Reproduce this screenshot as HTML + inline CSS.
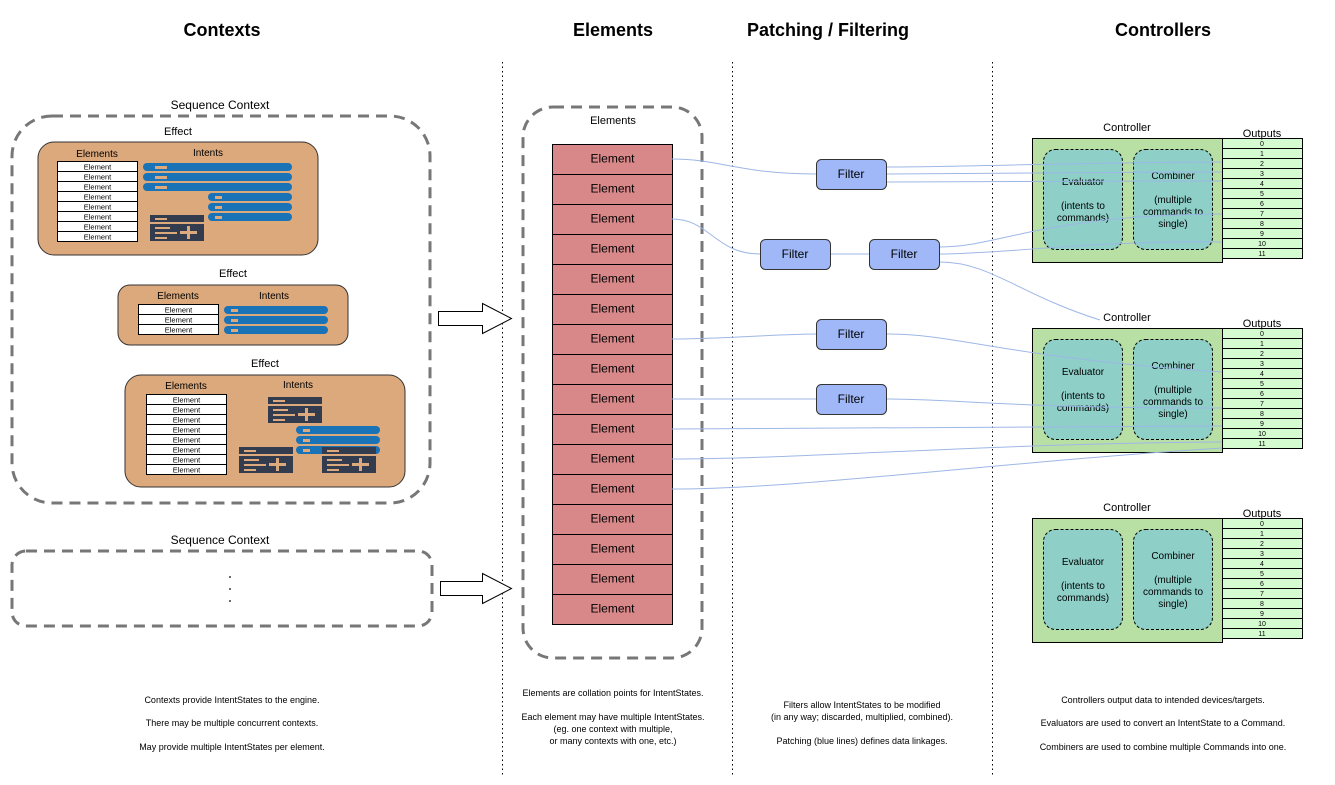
<!DOCTYPE html>
<html><head><meta charset="utf-8"><style>
body{margin:0;background:#fff}
svg{display:block}
text{font-family:"Liberation Sans",sans-serif;fill:#000}
</style></head><body>
<svg width="1335" height="785" viewBox="0 0 1335 785" xmlns="http://www.w3.org/2000/svg">
<defs>
<g id="row8"><rect width="80" height="10" fill="#fff" stroke="#000" stroke-width="1"/></g>
</defs>
<!-- titles -->
<g font-weight="bold" font-size="18" text-anchor="middle">
<text x="222" y="36">Contexts</text>
<text x="613" y="36">Elements</text>
<text x="828" y="36">Patching / Filtering</text>
<text x="1163" y="36">Controllers</text>
</g>
<!-- dotted separators -->
<g stroke="#000" stroke-width="1" stroke-dasharray="1.5,3">
<line x1="502.5" y1="62" x2="502.5" y2="775"/>
<line x1="732.5" y1="62" x2="732.5" y2="775"/>
<line x1="992.5" y1="62" x2="992.5" y2="775"/>
</g>
<!-- sequence context 1 -->
<text x="220" y="109" font-size="12" text-anchor="middle">Sequence Context</text>
<rect x="12" y="116" width="418" height="387" rx="40" fill="none" stroke="#777" stroke-width="3" stroke-dasharray="11,7"/>
<!-- Effect 1 -->
<text x="178" y="135" font-size="11" text-anchor="middle">Effect</text>
<rect x="38" y="142" width="280" height="113" rx="16" fill="#dca97c" stroke="#333"/>
<text x="97" y="157" font-size="10" text-anchor="middle">Elements</text>
<text x="208" y="156" font-size="10" text-anchor="middle">Intents</text>
<g font-size="7.5" text-anchor="middle">
<g transform="translate(57.5,161.5)">
<rect width="80" height="80" fill="#fff" stroke="#000"/>
<path d="M0 10H80M0 20H80M0 30H80M0 40H80M0 50H80M0 60H80M0 70H80" stroke="#000"/>
<text x="40" y="8">Element</text><text x="40" y="18">Element</text><text x="40" y="28">Element</text><text x="40" y="38">Element</text><text x="40" y="48">Element</text><text x="40" y="58">Element</text><text x="40" y="68">Element</text><text x="40" y="78">Element</text>
</g></g>
<g fill="#1a72b7">
<rect x="143" y="163" width="149" height="8" rx="4"/><rect x="143" y="173" width="149" height="8" rx="4"/><rect x="143" y="183" width="149" height="8" rx="4"/>
<rect x="208" y="193" width="84" height="8" rx="4"/><rect x="208" y="203" width="84" height="8" rx="4"/><rect x="208" y="213" width="84" height="8" rx="4"/>
</g>
<g fill="#dca97c"><rect x="155" y="166" width="12" height="3"/><rect x="155" y="176" width="12" height="3"/><rect x="155" y="186" width="12" height="3"/><rect x="215" y="196" width="7" height="3"/><rect x="215" y="206" width="7" height="3"/><rect x="215" y="216" width="7" height="3"/></g>
<g id="dark1"><rect x="150" y="215" width="54" height="7" fill="#333c4e"/><rect x="150" y="224" width="54" height="17" fill="#333c4e"/>
<g fill="#dca97c"><rect x="155" y="218" width="12" height="2"/><rect x="155" y="227" width="15" height="2"/><rect x="155" y="232" width="22" height="2"/><rect x="155" y="237" width="12" height="2"/><rect x="180" y="231" width="17" height="3"/><rect x="187" y="226" width="3" height="13"/></g></g>
<!-- Effect 2 -->
<text x="233" y="277" font-size="11" text-anchor="middle">Effect</text>
<rect x="118" y="285" width="230" height="60" rx="12" fill="#dca97c" stroke="#333"/>
<text x="178" y="299" font-size="10" text-anchor="middle">Elements</text>
<text x="274" y="299" font-size="10" text-anchor="middle">Intents</text>
<g font-size="7.5" text-anchor="middle" transform="translate(138.5,304.5)">
<rect width="80" height="30" fill="#fff" stroke="#000"/><path d="M0 10H80M0 20H80" stroke="#000"/>
<text x="40" y="8">Element</text><text x="40" y="18">Element</text><text x="40" y="28">Element</text></g>
<g fill="#1a72b7"><rect x="224" y="306" width="104" height="8" rx="4"/><rect x="224" y="316" width="104" height="8" rx="4"/><rect x="224" y="326" width="104" height="8" rx="4"/></g>
<g fill="#dca97c"><rect x="231" y="309" width="7" height="3"/><rect x="231" y="319" width="7" height="3"/><rect x="231" y="329" width="7" height="3"/></g>
<!-- Effect 3 -->
<text x="265" y="367" font-size="11" text-anchor="middle">Effect</text>
<rect x="125" y="375" width="280" height="112" rx="16" fill="#dca97c" stroke="#333"/>
<text x="186" y="389" font-size="10" text-anchor="middle">Elements</text>
<text x="298" y="388" font-size="10" text-anchor="middle">Intents</text>
<g font-size="7.5" text-anchor="middle" transform="translate(146.5,394.5)">
<rect width="80" height="80" fill="#fff" stroke="#000"/>
<path d="M0 10H80M0 20H80M0 30H80M0 40H80M0 50H80M0 60H80M0 70H80" stroke="#000"/>
<text x="40" y="8">Element</text><text x="40" y="18">Element</text><text x="40" y="28">Element</text><text x="40" y="38">Element</text><text x="40" y="48">Element</text><text x="40" y="58">Element</text><text x="40" y="68">Element</text><text x="40" y="78">Element</text></g>
<use href="#dark1" transform="translate(118,182)"/>
<g fill="#1a72b7"><rect x="296" y="426" width="84" height="8" rx="4"/><rect x="296" y="436" width="84" height="8" rx="4"/><rect x="296" y="446" width="84" height="8" rx="4"/></g>
<g fill="#dca97c"><rect x="303" y="429" width="7" height="3"/><rect x="303" y="439" width="7" height="3"/><rect x="303" y="449" width="7" height="3"/></g>
<use href="#dark1" transform="translate(89,232)"/>
<use href="#dark1" transform="translate(172,232)"/>
<!-- arrows -->
<g fill="#fff" stroke="#000" stroke-width="1">
<path d="M438.5 311.5H482.5V303.5L511.5 318.5L482.5 333.5V325.5H438.5Z"/>
<path d="M440.5 581.5H482.5V573.5L511.5 588.5L482.5 603.5V595.5H440.5Z"/>
</g>
<!-- sequence context 2 -->
<text x="220" y="544" font-size="12" text-anchor="middle">Sequence Context</text>
<rect x="12" y="551" width="420" height="75" rx="14" fill="none" stroke="#777" stroke-width="3" stroke-dasharray="11,7"/>
<g fill="#000"><circle cx="230" cy="577" r="0.9"/><circle cx="230" cy="589" r="0.9"/><circle cx="230" cy="601" r="0.9"/></g>
<!-- elements column -->
<rect x="523" y="107" width="179" height="551" rx="30" fill="none" stroke="#777" stroke-width="3" stroke-dasharray="11,7"/>
<text x="613" y="124" font-size="11" text-anchor="middle">Elements</text>
<g font-size="12" text-anchor="middle">
<g transform="translate(552.5,144.5)">
<rect width="120" height="480" fill="#d9888a" stroke="#000"/>
<path d="M0 30H120M0 60H120M0 90H120M0 120H120M0 150H120M0 180H120M0 210H120M0 240H120M0 270H120M0 300H120M0 330H120M0 360H120M0 390H120M0 420H120M0 450H120" stroke="#000"/>
<text x="60" y="18">Element</text><text x="60" y="48">Element</text><text x="60" y="78">Element</text><text x="60" y="108">Element</text><text x="60" y="138">Element</text><text x="60" y="168">Element</text><text x="60" y="198">Element</text><text x="60" y="228">Element</text><text x="60" y="258">Element</text><text x="60" y="288">Element</text><text x="60" y="318">Element</text><text x="60" y="348">Element</text><text x="60" y="378">Element</text><text x="60" y="408">Element</text><text x="60" y="438">Element</text><text x="60" y="468">Element</text>
</g></g>
<!-- controllers -->
<g id="ctrl">
<rect x="1032.5" y="138.5" width="190" height="124" fill="#b8e0a4" stroke="#000"/>
<rect x="1043.5" y="149.5" width="79" height="100" rx="12" fill="#8ecfc8" stroke="#000" stroke-dasharray="3,2"/>
<rect x="1133.5" y="149.5" width="79" height="100" rx="12" fill="#8ecfc8" stroke="#000" stroke-dasharray="3,2"/>
<g font-size="10" text-anchor="middle" fill="#222">
<text x="1083" y="185">Evaluator</text><text x="1083" y="209">(intents to</text><text x="1083" y="221">commands)</text>
<text x="1173" y="179">Combiner</text><text x="1173" y="203">(multiple</text><text x="1173" y="215">commands to</text><text x="1173" y="227">single)</text>
</g>
<rect x="1222.5" y="138.5" width="80" height="120" fill="#d4fcd0" stroke="#000"/>
<path d="M1222 148.5H1302M1222 158.5H1302M1222 168.5H1302M1222 178.5H1302M1222 188.5H1302M1222 198.5H1302M1222 208.5H1302M1222 218.5H1302M1222 228.5H1302M1222 238.5H1302M1222 248.5H1302" stroke="#000"/>
<g font-size="7" text-anchor="middle"><text x="1262" y="146">0</text><text x="1262" y="156">1</text><text x="1262" y="166">2</text><text x="1262" y="176">3</text><text x="1262" y="186">4</text><text x="1262" y="196">5</text><text x="1262" y="206">6</text><text x="1262" y="216">7</text><text x="1262" y="226">8</text><text x="1262" y="236">9</text><text x="1262" y="246">10</text><text x="1262" y="256">11</text></g>
<text x="1127" y="131" font-size="11" text-anchor="middle">Controller</text>
<text x="1262" y="137" font-size="11" text-anchor="middle">Outputs</text>
</g>
<use href="#ctrl" transform="translate(0,190)"/>
<use href="#ctrl" transform="translate(0,380)"/>
<!-- patch lines -->
<g fill="none" stroke="#9db7e6" stroke-width="1">
<path d="M672 159C720 159 740 174 816 174"/>
<path d="M886 167C960 167 1100 162 1222 162"/>
<path d="M886 174C960 174 1100 172 1222 172"/>
<path d="M886 182C960 182 1100 181 1222 181"/>
<path d="M672 219C710 219 715 254 760 254"/>
<path d="M830 254H870"/>
<path d="M940 247C1000 247 1040 215 1222 214"/>
<path d="M940 254C1000 254 1100 240 1222 242"/>
<path d="M940 262C990 262 1020 295 1100 320"/>
<path d="M672 339C720 339 780 334 816 334"/>
<path d="M886 334C960 334 1000 357 1222 372"/>
<path d="M672 399H816"/>
<path d="M886 399C960 399 1000 408 1222 408"/>
<path d="M672 429C800 429 1000 427 1222 426"/>
<path d="M672 459C800 459 1000 443 1222 442"/>
<path d="M672 489C800 489 1000 462 1222 448"/>
</g>
<!-- filters -->
<g fill="#a0b8f8" stroke="#333" stroke-width="1">
<rect x="816.5" y="159.5" width="70" height="30" rx="5"/>
<rect x="760.5" y="239.5" width="70" height="30" rx="5"/>
<rect x="869.5" y="239.5" width="70" height="30" rx="5"/>
<rect x="816.5" y="319.5" width="70" height="30" rx="5"/>
<rect x="816.5" y="384.5" width="70" height="30" rx="5"/>
</g>
<g font-size="12" text-anchor="middle">
<text x="851" y="178">Filter</text><text x="795" y="258">Filter</text><text x="904" y="258">Filter</text><text x="851" y="338">Filter</text><text x="851" y="403">Filter</text>
</g>
<!-- bottom notes -->
<g font-size="9" text-anchor="middle">
<text x="232" y="703">Contexts provide IntentStates to the engine.</text>
<text x="232" y="726">There may be multiple concurrent contexts.</text>
<text x="232" y="750">May provide multiple IntentStates per element.</text>
<text x="613" y="696">Elements are collation points for IntentStates.</text>
<text x="613" y="720">Each element may have multiple IntentStates.</text>
<text x="613" y="732">(eg. one context with multiple,</text>
<text x="613" y="744">or many contexts with one, etc.)</text>
<text x="862" y="708">Filters allow IntentStates to be modified</text>
<text x="862" y="720">(in any way; discarded, multiplied, combined).</text>
<text x="862" y="744">Patching (blue lines) defines data linkages.</text>
<text x="1163" y="703">Controllers output data to intended devices/targets.</text>
<text x="1163" y="726">Evaluators are used to convert an IntentState to a Command.</text>
<text x="1163" y="750">Combiners are used to combine multiple Commands into one.</text>
</g>
</svg>
</body></html>
